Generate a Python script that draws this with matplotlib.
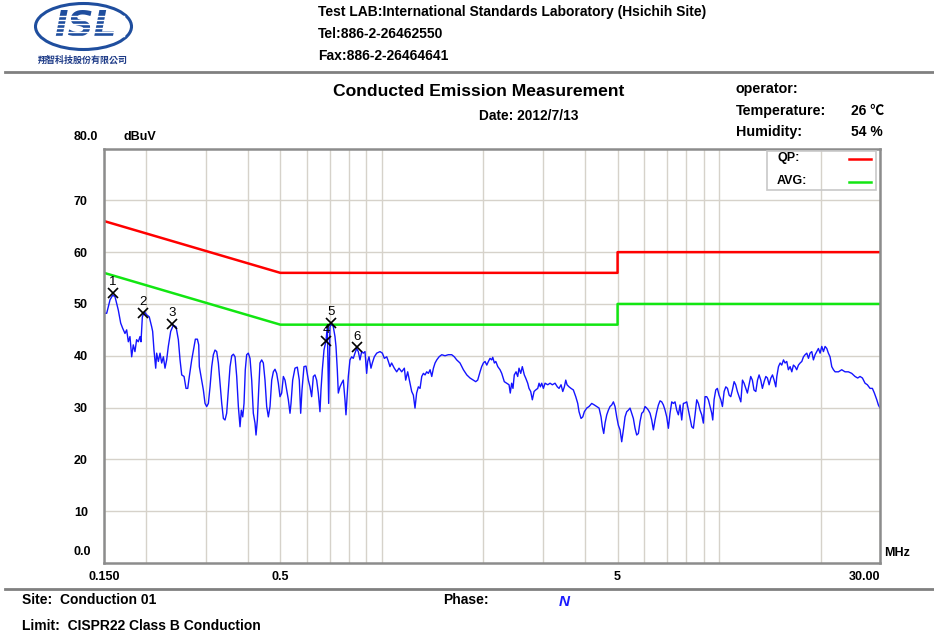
import matplotlib
matplotlib.use('Agg')
import matplotlib.pyplot as plt
from matplotlib.patches import Ellipse, Rectangle
from matplotlib.lines import Line2D
from matplotlib.ticker import NullFormatter

plt.rcParams['font.family'] = ['Liberation Sans', 'DejaVu Sans', 'Noto Sans CJK TC']

# ---------------- data ----------------
trace_freq = [
    0.1500, 0.1528, 0.1563, 0.1592, 0.1617, 0.1654, 0.1681, 0.1704, 0.1731, 0.1751,
    0.1771, 0.1791, 0.1812, 0.1832, 0.1853, 0.1874, 0.1896, 0.1918, 0.1931, 0.1949,
    0.1976, 0.2007, 0.2043, 0.2077, 0.2091, 0.2110, 0.2135, 0.2149, 0.2174, 0.2199,
    0.2224, 0.2250, 0.2275, 0.2301, 0.2327, 0.2365, 0.2408, 0.2453, 0.2492, 0.2521,
    0.2550, 0.2591, 0.2626, 0.2657, 0.2686, 0.2730, 0.2774, 0.2799, 0.2838, 0.2864,
    0.2876, 0.2923, 0.2956, 0.2990, 0.3024, 0.3059, 0.3094, 0.3130, 0.3165, 0.3201,
    0.3238, 0.3275, 0.3313, 0.3351, 0.3389, 0.3427, 0.3466, 0.3506, 0.3547, 0.3588,
    0.3629, 0.3670, 0.3712, 0.3754, 0.3797, 0.3831, 0.3868, 0.3902, 0.3936, 0.3973,
    0.4018, 0.4065, 0.4112, 0.4158, 0.4206, 0.4235, 0.4274, 0.4313, 0.4352, 0.4402,
    0.4452, 0.4503, 0.4555, 0.4607, 0.4660, 0.4714, 0.4767, 0.4821, 0.4876, 0.4932,
    0.4989, 0.5046, 0.5104, 0.5162, 0.5221, 0.5281, 0.5341, 0.5378, 0.5440, 0.5526,
    0.5615, 0.5691, 0.5745, 0.5797, 0.5876, 0.5958, 0.6053, 0.6122, 0.6192, 0.6263,
    0.6334, 0.6407, 0.6480, 0.6554, 0.6599, 0.6660, 0.6736, 0.6829, 0.6891, 0.6955,
    0.7017, 0.7098, 0.7178, 0.7261, 0.7311, 0.7377, 0.7428, 0.7513, 0.7599, 0.7686,
    0.7774, 0.7827, 0.7898, 0.7953, 0.8044, 0.8137, 0.8229, 0.8323, 0.8419, 0.8514,
    0.8613, 0.8712, 0.8811, 0.8912, 0.9014, 0.9078, 0.9159, 0.9285, 0.9370, 0.9499,
    0.9655, 0.9876, 1.0035, 1.0172, 1.0338, 1.0455, 1.057, 1.069, 1.0887, 1.1066,
    1.1243, 1.145, 1.166, 1.1766, 1.1928, 1.212, 1.226, 1.240, 1.254, 1.268,
    1.283, 1.298, 1.313, 1.328, 1.343, 1.358, 1.374, 1.390, 1.406, 1.422,
    1.438, 1.455, 1.478, 1.505, 1.539, 1.574, 1.611, 1.640, 1.667, 1.705,
    1.745, 1.786, 1.826, 1.868, 1.898, 1.924, 1.955, 1.977, 2.000, 2.023,
    2.047, 2.070, 2.093, 2.117, 2.132, 2.156, 2.177, 2.207, 2.241, 2.267,
    2.307, 2.345, 2.383, 2.403, 2.426, 2.448, 2.470, 2.500, 2.528, 2.551,
    2.581, 2.609, 2.645, 2.670, 2.707, 2.731, 2.763, 2.794, 2.827, 2.859,
    2.899, 2.925, 2.951, 2.979, 3.013, 3.047, 3.104, 3.153, 3.203, 3.262,
    3.314, 3.353, 3.399, 3.439, 3.477, 3.510, 3.541, 3.590, 3.639, 3.697,
    3.758, 3.809, 3.843, 3.896, 3.942, 3.985, 4.051, 4.115, 4.191, 4.267,
    4.336, 4.406, 4.466, 4.506, 4.549, 4.590, 4.644, 4.696, 4.749, 4.804,
    4.859, 4.914, 4.971, 5.026, 5.085, 5.143, 5.202, 5.261, 5.322, 5.383,
    5.444, 5.507, 5.569, 5.633, 5.698, 5.763, 5.829, 5.896, 5.963, 6.031,
    6.101, 6.170, 6.241, 6.313, 6.384, 6.457, 6.532, 6.607, 6.682, 6.759,
    6.836, 6.914, 6.994, 7.073, 7.154, 7.237, 7.319, 7.402, 7.488, 7.573,
    7.659, 7.748, 7.836, 7.925, 8.017, 8.108, 8.201, 8.296, 8.390, 8.486,
    8.584, 8.682, 8.780, 8.882, 8.982, 9.085, 9.190, 9.295, 9.401, 9.511,
    9.576, 9.663, 9.776, 9.883, 9.997, 10.12, 10.23, 10.35, 10.47, 10.59,
    10.71, 10.83, 10.95, 11.08, 11.20, 11.33, 11.46, 11.60, 11.73, 11.86,
    12.00, 12.13, 12.27, 12.41, 12.55, 12.69, 12.85, 13.00, 13.14, 13.29,
    13.44, 13.60, 13.76, 13.91, 14.07, 14.24, 14.40, 14.56, 14.73, 14.83,
    15.00, 15.17, 15.34, 15.52, 15.69, 15.87, 16.05, 16.24, 16.43, 16.61,
    16.80, 16.99, 17.19, 17.39, 17.59, 17.79, 17.99, 18.20, 18.41, 18.61,
    18.83, 19.04, 19.26, 19.48, 19.70, 19.93, 20.16, 20.39, 20.62, 20.86,
    21.09, 21.33, 21.58, 21.83, 22.08, 22.59, 23.10, 23.63, 24.17, 24.73,
    25.30, 25.76, 26.18, 26.61, 27.09, 27.52, 28.03, 28.48, 28.87, 29.35,
    29.67, 30.00,
]
trace_level = [
    48.2, 48.2, 50.8, 51.7, 51.4, 48.8, 46.3, 45.3, 44.3, 45.0,
    42.7, 43.7, 39.8, 42.1, 40.8, 43.1, 42.7, 43.7, 42.7, 47.5,
    48.5, 47.9, 47.5, 45.6, 44.7, 41.1, 37.6, 40.5, 38.9, 40.5,
    38.6, 39.8, 37.6, 39.2, 41.8, 44.7, 45.9, 45.6, 43.1, 39.2,
    36.3, 36.0, 33.7, 33.7, 36.0, 39.2, 41.8, 43.2, 43.2, 42.1,
    37.9, 35.3, 33.4, 30.8, 30.2, 30.8, 34.0, 37.9, 40.2, 41.1,
    40.8, 38.6, 34.7, 30.8, 27.9, 27.6, 28.9, 33.4, 37.9, 40.0,
    40.3, 39.8, 36.0, 30.2, 26.3, 29.5, 28.2, 30.8, 37.3, 40.2,
    40.5, 39.5, 35.3, 28.9, 27.0, 24.7, 27.6, 33.4, 38.6, 39.2,
    38.6, 35.3, 30.2, 28.2, 30.2, 35.3, 36.9, 37.4, 36.6, 34.7,
    32.1, 32.8, 36.0, 35.3, 33.4, 31.5, 28.9, 30.8, 35.3, 37.6,
    37.8, 35.3, 28.9, 33.4, 37.9, 38.0, 35.3, 34.0, 32.1, 36.0,
    36.3, 35.3, 32.8, 29.2, 33.4, 37.3, 41.1, 42.9, 45.6, 30.8,
    45.6, 46.2, 45.6, 43.7, 41.8, 37.3, 32.8, 34.0, 34.7, 35.3,
    31.5, 28.6, 32.8, 36.0, 39.2, 39.8, 39.5, 40.5, 41.4, 40.8,
    39.2, 40.8, 40.5, 40.8, 36.6, 38.9, 39.8, 37.6, 38.6, 39.8,
    40.5, 40.8, 40.5, 39.5, 39.8, 38.9, 37.9, 38.6, 37.6, 36.9,
    37.6, 36.9, 37.6, 35.3, 36.9, 34.7, 33.1, 32.4, 29.9, 32.8,
    34.0, 33.7, 36.0, 36.6, 36.3, 36.9, 36.6, 37.3, 36.0, 37.6,
    38.6, 39.2, 39.8, 40.2, 40.0, 40.2, 40.2, 39.8, 39.2, 38.6,
    37.3, 36.3, 35.7, 35.3, 35.0, 35.3, 36.9, 37.9, 38.6, 38.9,
    38.2, 38.9, 39.5, 39.2, 39.7, 38.6, 38.9, 37.9, 37.3, 36.6,
    35.0, 34.7, 34.4, 32.8, 34.7, 33.7, 36.3, 36.9, 36.0, 37.6,
    36.6, 37.9, 36.3, 35.7, 34.7, 33.7, 33.1, 31.5, 33.1, 33.4,
    33.7, 34.7, 34.0, 34.7, 33.7, 34.7, 34.4, 34.7, 34.4, 34.7,
    34.0, 33.7, 34.4, 33.1, 34.0, 35.3, 34.4, 34.0, 33.7, 33.4,
    32.1, 30.8, 29.2, 27.9, 28.2, 29.2, 29.9, 30.2, 30.8, 30.5,
    30.2, 29.9, 28.2, 26.3, 25.0, 27.0, 28.6, 29.5, 30.2, 30.5,
    31.1, 30.2, 28.2, 26.6, 25.7, 23.4, 25.7, 28.2, 29.2, 29.5,
    29.9, 28.9, 27.9, 26.0, 24.7, 25.0, 27.3, 28.9, 29.2, 30.2,
    29.9, 29.5, 28.9, 27.6, 25.7, 27.6, 29.2, 30.5, 31.3, 31.1,
    30.5, 29.5, 28.2, 26.0, 28.9, 31.1, 30.8, 31.1, 29.5, 28.6,
    30.5, 27.6, 30.8, 30.9, 31.1, 29.5, 27.9, 26.3, 26.0, 28.6,
    31.5, 30.8, 29.5, 28.6, 27.0, 32.1, 32.1, 31.5, 30.2, 28.9,
    27.6, 31.5, 33.4, 33.7, 32.4, 31.5, 30.2, 33.1, 34.0, 33.7,
    32.4, 32.1, 33.4, 35.0, 34.4, 33.1, 32.1, 31.1, 35.3, 34.7,
    33.7, 32.8, 34.4, 36.0, 35.3, 33.4, 33.1, 35.3, 36.3, 35.3,
    33.7, 35.0, 36.0, 35.7, 34.4, 35.7, 36.3, 35.3, 34.0, 36.0,
    37.9, 38.6, 38.2, 39.2, 38.6, 38.9, 37.3, 37.9, 36.9, 38.2,
    37.9, 37.3, 38.2, 38.6, 38.9, 39.8, 40.2, 40.5, 39.5, 40.5,
    40.8, 39.2, 40.2, 40.8, 41.4, 40.5, 41.8, 40.8, 41.8, 41.4,
    40.5, 39.8, 37.9, 37.3, 36.9, 36.9, 37.3, 36.9, 36.9, 36.6,
    36.0, 35.7, 36.0, 35.7, 34.7, 34.4, 33.7, 33.7, 32.8, 31.5,
    30.5, 29.9,
]

qp_freq = [0.15, 0.5, 5.0, 5.0, 30.0]
qp_level = [66.0, 56.0, 56.0, 60.0, 60.0]
avg_freq = [0.15, 0.5, 5.0, 5.0, 30.0]
avg_level = [56.0, 46.0, 46.0, 50.0, 50.0]

marker_freq = [0.1590, 0.1962, 0.2391, 0.6829, 0.7051, 0.8457]
marker_level = [52.2, 48.2, 46.1, 42.9, 46.3, 41.6]
marker_label = ['1', '2', '3', '4', '5', '6']

y_ticks = [10, 20, 30, 40, 50, 60, 70]
y_tick_labels = ['10', '20', '30', '40', '50', '60', '70']
x_ticks = [0.15, 0.5, 5, 30]
x_tick_labels = ['0.150', '0.5', '5', '30.00']
x_grid = [0.2, 0.3, 0.4, 0.5, 0.6, 0.7, 0.8, 0.9, 1, 2, 3, 4, 5, 6, 7, 8, 9, 10, 20]

# ---------------- figure ----------------
W, H = 934, 637
fig = plt.figure(figsize=(W / 100, H / 100), dpi=100)
fig.patch.set_facecolor('white')


def fx(x):
    return x / W


def fy(y):
    return 1 - y / H


def ftext(x, y, s, **kw):
    kw.setdefault('fontsize', 10)
    kw.setdefault('fontweight', 'bold')
    kw.setdefault('va', 'center')
    kw.setdefault('ha', 'left')
    fig.text(fx(x), fy(y), s, **kw)


ax = fig.add_axes([fx(104), fy(563), 776 / W, (563 - 148.5) / H])
ax.set_xscale('log')
ax.set_xlim(0.15, 30)
ax.set_ylim(0, 80)

grid_c = '#d6d2ca'
ax.set_xticks(x_ticks, x_tick_labels)
ax.set_xticks(x_grid, minor=True)
ax.xaxis.set_minor_formatter(NullFormatter())
ax.set_yticks(y_ticks, y_tick_labels)
ax.grid(True, which='both', axis='x', color=grid_c, lw=1.0)
ax.grid(True, which='major', axis='y', color=grid_c, lw=1.0)
ax.set_axisbelow(True)
ax.tick_params(axis='both', which='both', length=0)
ax.tick_params(axis='x', pad=6, labelsize=9)
ax.tick_params(axis='y', pad=21.6, labelsize=9)
for lab in ax.get_yticklabels():
    lab.set_horizontalalignment('left')
    lab.set_fontweight('bold')
for lab in ax.get_xticklabels():
    lab.set_fontweight('bold')
xl = ax.get_xticklabels()
xl[-1].set_horizontalalignment('right')

for sp in ax.spines.values():
    sp.set_color('#8c8c8c')
    sp.set_linewidth(1.8)

ax.plot(qp_freq, qp_level, color='#ff0000', lw=1.8)
ax.plot(avg_freq, avg_level, color='#12e612', lw=1.8)
ax.plot(trace_freq, trace_level, color='#1414ff', lw=1.0)
ax.plot(marker_freq, marker_level, 'x', color='black', ms=6.5, mew=1.2)
for f, l, s in zip(marker_freq, marker_level, marker_label):
    ax.annotate(s, (f, l), xytext=(0, 3.5), textcoords='offset points',
                ha='center', va='bottom', fontsize=9.5)

# legend box
fig.patches.append(Rectangle((fx(767), fy(190)), 109 / W, 39 / H,
                             transform=fig.transFigure, fill=False,
                             edgecolor='#c8c8c8', lw=1.2))
ftext(777, 158, 'QP:', fontsize=9)
ftext(777, 181, 'AVG:', fontsize=9)
fig.lines.append(Line2D([fx(849), fx(871)], [fy(159), fy(159)],
                        transform=fig.transFigure, color='#ff0000', lw=1.8))
fig.lines.append(Line2D([fx(849), fx(871)], [fy(182), fy(182)],
                        transform=fig.transFigure, color='#12e612', lw=1.8))

# axis extra labels
ftext(74, 137, '80.0', fontsize=9)
ftext(124, 137, 'dBuV', fontsize=9)
ftext(74, 552, '0.0', fontsize=9)
ftext(884, 553, 'MHz', fontsize=9)

# header
logo_c = '#1f4e9e'
fig.patches.append(Ellipse((fx(83.5), fy(26.5)), 96 / W, 46 / H,
                           transform=fig.transFigure, fill=False,
                           edgecolor=logo_c, lw=2.2))
ftext(85, 26, 'ISL', fontsize=26, fontweight='bold', style='italic',
      ha='center', color=logo_c, family='DejaVu Sans')
for yy in [16.0, 20.0, 24.0, 28.0, 32.0, 36.0]:
    fig.lines.append(Line2D([fx(48), fx(124)], [fy(yy), fy(yy)],
                            transform=fig.transFigure, color='white', lw=1.0,
                            zorder=5))
ftext(83, 60, '翔智科技股份有限公司', fontsize=6.5, ha='center', color='#1f3c88',
      family=['Noto Sans CJK TC'])

ftext(318, 12, 'Test LAB:International Standards Laboratory (Hsichih Site)', fontsize=10)
ftext(318, 34, 'Tel:886-2-26462550', fontsize=10)
ftext(318, 56, 'Fax:886-2-26464641', fontsize=10)
fig.lines.append(Line2D([fx(5), fx(934)], [fy(72), fy(72)],
                        transform=fig.transFigure, color='#808080', lw=2))

ftext(479, 91, 'Conducted Emission Measurement', fontsize=12.6, ha='center')
ftext(479, 116, 'Date: 2012/7/13', fontsize=9.9)
ftext(736, 89, 'operator:', fontsize=10.3)
ftext(736, 111, 'Temperature:', fontsize=10.3)
ftext(851, 111, '26 ℃', fontsize=10, family=['Liberation Sans', 'Noto Sans CJK TC'])
ftext(736, 132, 'Humidity:', fontsize=10.3)
ftext(851, 132, '54 %', fontsize=10)

# footer
fig.lines.append(Line2D([fx(5), fx(934)], [fy(589), fy(589)],
                        transform=fig.transFigure, color='#808080', lw=2))
ftext(22, 600, 'Site:  Conduction 01', fontsize=10)
ftext(443, 600, 'Phase:', fontsize=10)
ftext(559, 602, 'N', fontsize=11, color='#1a1aff', style='italic')
ftext(22, 626, 'Limit:  CISPR22 Class B Conduction', fontsize=10)

fig.savefig('out.png', dpi=100, facecolor='white')
